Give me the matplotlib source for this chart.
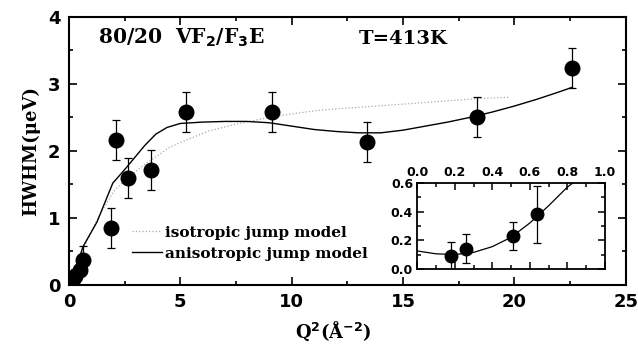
import matplotlib.pyplot as plt

# measured points (main panel)
q2 = [0.18, 0.26, 0.51, 0.64, 1.88, 2.1, 2.64, 3.68, 5.25, 9.1, 13.4, 18.3, 22.6]
hwhm = [0.09, 0.14, 0.23, 0.38, 0.85, 2.16, 1.6, 1.72, 2.58, 2.58, 2.13, 2.51, 3.24]
err = [0.1, 0.1, 0.1, 0.2, 0.3, 0.3, 0.3, 0.3, 0.3, 0.3, 0.3, 0.3, 0.3]

# model curves
iso_x = [0, 0.65, 1.3, 2.06, 2.5, 2.9, 3.4, 3.9, 4.5, 5.25, 6.3, 7.4, 9.1, 10.4, 11.3, 13.4, 15.5, 18.3, 19.8]
iso_y = [0.03, 0.55, 1.0, 1.42, 1.55, 1.67, 1.8, 1.91, 2.05, 2.16, 2.3, 2.39, 2.51, 2.57, 2.61, 2.66, 2.71, 2.78, 2.8]
ani_x = [0, 0.13, 0.63, 1.26, 1.97, 2.5, 2.9, 3.4, 3.9, 4.4, 5.0, 6, 7, 8, 9, 10, 11, 12, 13, 14,
         15, 16, 17, 18, 19, 20, 21, 22, 22.6]
ani_y = [0.02, 0.05, 0.57, 0.94, 1.52, 1.72, 1.88, 2.08, 2.25, 2.35, 2.41, 2.43, 2.44, 2.44, 2.42,
         2.37, 2.32, 2.29, 2.27, 2.27, 2.31, 2.37, 2.43, 2.5, 2.58, 2.67, 2.77, 2.88, 2.95]

# inset (low Q^2)
in_x = [0.18, 0.26, 0.51, 0.64]
in_y = [0.09, 0.14, 0.23, 0.38]
in_err = [0.1, 0.1, 0.1, 0.2]
in_cx = [0, 0.1, 0.2, 0.3, 0.4, 0.5, 0.6, 0.7, 0.8, 0.83]
in_cy = [0.125, 0.105, 0.1, 0.115, 0.155, 0.22, 0.32, 0.44, 0.57, 0.6]

serif = 'DejaVu Serif'

fig = plt.figure(figsize=(6.38, 3.51), dpi=100)
ax = fig.add_axes([0.108, 0.188, 0.873, 0.764])

ax.plot(iso_x, iso_y, ls=':', color='#aaaaaa', lw=0.9, label='isotropic jump model')
ax.plot(ani_x, ani_y, '-', color='black', lw=1.0, label='anisotropic jump model')
ax.errorbar(q2, hwhm, yerr=err, fmt='o', color='black', ms=10.5, capsize=3, elinewidth=0.9, capthick=0.9)

ax.set_xlim(0, 25)
ax.set_ylim(0, 4)
ax.set_xticks([0, 5, 10, 15, 20, 25])
ax.set_xticks([2.5, 7.5, 12.5, 17.5, 22.5], minor=True)
ax.set_yticks([0, 1, 2, 3, 4])
ax.set_yticks([0.5, 1.5, 2.5, 3.5], minor=True)
ax.tick_params(which='both', direction='in', top=True, right=True, width=1.2)
ax.tick_params(which='major', length=6, labelsize=13, pad=6)
ax.tick_params(which='minor', length=3)
for lab in ax.get_xticklabels() + ax.get_yticklabels():
    lab.set_fontweight('bold')
for s in ax.spines.values():
    s.set_linewidth(1.5)

ax.set_xlabel(r'Q$^{\mathbf{2}}$(Å$^{\mathbf{-2}}$)', fontsize=13, fontweight='bold', family=serif, labelpad=3)
ax.xaxis.set_label_coords(0.475, -0.13)
ax.set_ylabel('HWHM(μeV)', fontsize=13, fontweight='bold', family=serif, labelpad=6)

ax.text(1.3, 3.6, r'80/20  VF$_\mathbf{2}$/F$_\mathbf{3}$E', fontsize=14.5, fontweight='bold', family=serif)
ax.text(13.0, 3.6, 'T=413K', fontsize=14, fontweight='bold', family=serif)

leg = ax.legend(loc='lower left', bbox_to_anchor=(0.088, 0.04), frameon=False, handlelength=2.0,
                handletextpad=0.2, labelspacing=0.45, prop={'family': serif, 'weight': 'bold', 'size': 11})

# inset
ins = fig.add_axes([0.654, 0.234, 0.294, 0.245])
ins.plot(in_cx, in_cy, '-', color='black', lw=0.9)
ins.errorbar(in_x, in_y, yerr=in_err, fmt='o', color='black', ms=9, capsize=3, elinewidth=0.9, capthick=0.9)
ins.set_xlim(0, 1)
ins.set_ylim(0, 0.6)
ins.set_xticks([0, 0.2, 0.4, 0.6, 0.8, 1.0])
ins.set_xticks([0.1, 0.3, 0.5, 0.7, 0.9], minor=True)
ins.set_yticks([0, 0.2, 0.4, 0.6])
ins.set_yticks([0.1, 0.3, 0.5], minor=True)
ins.xaxis.set_major_formatter('{x:.1f}')
ins.yaxis.set_major_formatter('{x:.1f}')
ins.tick_params(which='both', direction='in', top=True, right=True, bottom=True,
                labeltop=True, labelbottom=False, width=1.1)
ins.tick_params(which='major', length=5, labelsize=9, pad=3)
ins.tick_params(which='minor', length=3)
for lab in ins.get_xticklabels() + ins.get_yticklabels():
    lab.set_fontweight('bold')
for s in ins.spines.values():
    s.set_linewidth(1.3)

fig.savefig('out.png', dpi=100)
